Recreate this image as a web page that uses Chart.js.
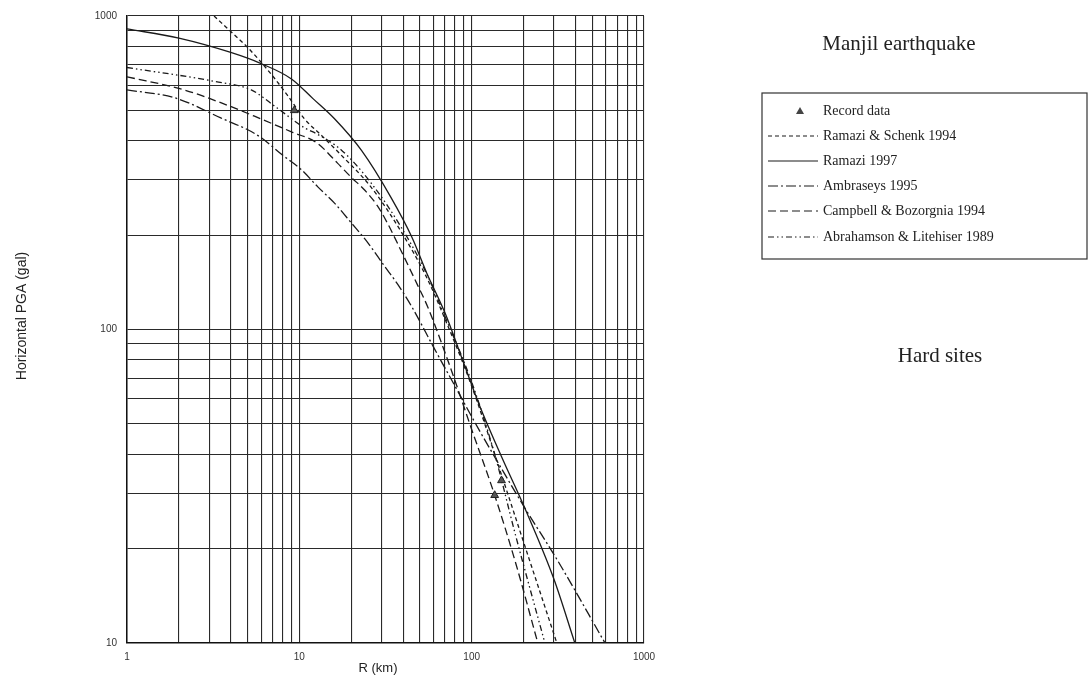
<!DOCTYPE html>
<html>
<head>
<meta charset="utf-8">
<script src="https://cdn.jsdelivr.net/npm/chart.js@4.4.0/dist/chart.umd.min.js"></script>
<style>
  html, body { margin: 0; padding: 0; background: #fff; }
</style>
</head>
<body>
<canvas id="myChart" width="1089" height="683"></canvas>
<script>
// grid lines on both log axes, labels only on the decades
const xTicks = [1, 2, 3, 4, 5, 6, 7, 8, 9, 10, 20, 30, 40, 50, 60, 70, 80, 90, 100, 200, 300, 400, 500, 600, 700, 800, 900, 1000];
const yTicks = [10, 20, 30, 40, 50, 60, 70, 80, 90, 100, 200, 300, 400, 500, 600, 700, 800, 900, 1000];
const xLabels = [1, 10, 100, 1000];
const yLabels = [10, 100, 1000];

// R (km) and horizontal PGA (gal)
const recordR = [9.35, 136, 149];
const recordPGA = [500, 29.6, 33];

const ramaziSchenkR = [3.2, 4.2, 5, 6.9, 8.5, 10.7, 13.5, 17.5, 26, 39, 55, 70, 100, 150, 200, 312];
const ramaziSchenkPGA = [1000, 870, 795, 650, 560, 470, 415, 360, 285, 205, 146, 108, 66, 34, 21, 10];

const ramazi97R = [1, 2, 4, 6, 9, 12, 16, 23, 34, 45, 55, 70, 90, 110, 150, 203, 300, 397];
const ramazi97PGA = [910, 850, 765, 705, 630, 545, 470, 372, 264, 197, 151, 113, 78, 58, 39, 27, 16, 10];

const ambraseysR = [1, 1.9, 3.5, 5.7, 8.2, 10.3, 12.8, 16, 20, 25, 31, 37, 45, 60, 80, 110, 149, 203, 312, 594];
const ambraseysPGA = [581, 548, 473, 417, 356, 323, 285, 253, 219, 189, 160, 140, 118, 88, 66, 48, 36, 27, 18.5, 10];

const campbellR = [1, 2.15, 3.5, 5.7, 9, 12.7, 16.6, 20, 24, 28.4, 32.5, 39, 48.7, 55.6, 75, 100, 136, 180, 242];
const campbellPGA = [640, 581, 529, 475, 427, 393, 340, 306, 278, 248, 218, 178, 138, 118, 76, 48, 29.6, 18, 10];

const abrahamsonR = [1, 3.2, 5.26, 7.4, 10.7, 12.7, 17.5, 26, 39, 55, 70, 100, 136, 180, 266];
const abrahamsonPGA = [685, 619, 581, 510, 440, 420, 374, 294, 212, 150, 110, 68, 40, 22, 10];

function pts(xs, ys) {
    return xs.map((x, i) => ({ x: x, y: ys[i] }));
}

function curve(label, xs, ys, dash) {
    return {
        label: label,
        data: pts(xs, ys),
        showLine: true,
        borderColor: '#1a1a1a',
        borderWidth: 1.3,
        borderDash: dash,
        pointRadius: 0,
        fill: false,
        cubicInterpolationMode: 'monotone'
    };
}

const datasets = [
    {
        label: 'Record data',
        data: pts(recordR, recordPGA),
        pointStyle: 'triangle',
        pointRadius: 4.5,
        backgroundColor: '#555',
        borderColor: '#222',
        borderWidth: 1,
        showLine: false
    },
    curve('Ramazi & Schenk 1994', ramaziSchenkR, ramaziSchenkPGA, [4, 3]),
    curve('Ramazi 1997', ramazi97R, ramazi97PGA, []),
    curve('Ambraseys 1995', ambraseysR, ambraseysPGA, [10, 3, 2, 3]),
    curve('Campbell & Bozorgnia 1994', campbellR, campbellPGA, [8, 4]),
    curve('Abrahamson & Litehiser 1989', abrahamsonR, abrahamsonPGA, [6, 3, 1.5, 3, 1.5, 3])
];

// titles, axis names and the boxed legend
const overlay = {
    id: 'overlay',
    afterDraw(chart) {
        const c = chart.ctx;
        c.save();
        c.fillStyle = '#222';
        c.textBaseline = 'middle';

        c.font = '21px "Liberation Serif"';
        c.textAlign = 'center';
        c.fillText('Manjil earthquake', 899, 44);
        c.fillText('Hard sites', 940, 356);

        c.font = '13px "Liberation Sans"';
        c.fillText('R (km)', 378, 668);
        c.font = '14px "Liberation Sans"';
        c.save();
        c.translate(22, 316);
        c.rotate(-Math.PI / 2);
        c.fillText('Horizontal PGA (gal)', 0, 0);
        c.restore();

        // legend box
        c.strokeStyle = '#333';
        c.lineWidth = 1.2;
        c.strokeRect(762, 93, 325, 166);
        c.font = '14px "Liberation Serif"';
        c.textAlign = 'left';
        const rowY = [111, 136, 161, 186, 211, 237];
        chart.data.datasets.forEach((ds, i) => {
            const y = rowY[i];
            if (ds.showLine) {
                c.beginPath();
                c.setLineDash(ds.borderDash);
                c.lineWidth = 1.2;
                c.strokeStyle = '#1a1a1a';
                c.moveTo(768, y);
                c.lineTo(818, y);
                c.stroke();
                c.setLineDash([]);
            } else {
                c.beginPath();
                c.fillStyle = '#444';
                c.moveTo(800, y - 4);
                c.lineTo(804, y + 3);
                c.lineTo(796, y + 3);
                c.closePath();
                c.fill();
                c.fillStyle = '#222';
            }
            c.fillText(ds.label, 823, y);
        });
        c.restore();
    }
};

const ctx = document.getElementById('myChart');

new Chart(ctx, {
    type: 'scatter',
    data: { datasets: datasets },
    options: {
        responsive: false,
        animation: false,
        layout: { padding: { left: 0, right: 445, top: 16, bottom: 0 } },
        plugins: {
            legend: { display: false },
            tooltip: { enabled: false }
        },
        scales: {
            x: {
                type: 'logarithmic',
                min: 1,
                max: 1000,
                afterBuildTicks: (axis) => { axis.ticks = xTicks.map(v => ({ value: v })); },
                afterFit: (axis) => { axis.height = 40; },
                ticks: {
                    autoSkip: false,
                    maxRotation: 0,
                    padding: 8,
                    color: '#333',
                    font: { family: 'Liberation Sans', size: 10 },
                    callback: (v) => xLabels.includes(v) ? String(v) : ''
                },
                grid: { color: '#2a2a2a', lineWidth: 1.1, drawTicks: false },
                border: { color: '#111', width: 1.5 }
            },
            y: {
                type: 'logarithmic',
                min: 10,
                max: 1000,
                afterBuildTicks: (axis) => { axis.ticks = yTicks.map(v => ({ value: v })); },
                afterFit: (axis) => { axis.width = 127; },
                ticks: {
                    autoSkip: false,
                    padding: 10,
                    color: '#333',
                    font: { family: 'Liberation Sans', size: 10 },
                    callback: (v) => yLabels.includes(v) ? String(v) : ''
                },
                grid: { color: '#2a2a2a', lineWidth: 1.1, drawTicks: false },
                border: { color: '#111', width: 1.5 }
            }
        }
    },
    plugins: [overlay]
});
</script>
</body>
</html>
